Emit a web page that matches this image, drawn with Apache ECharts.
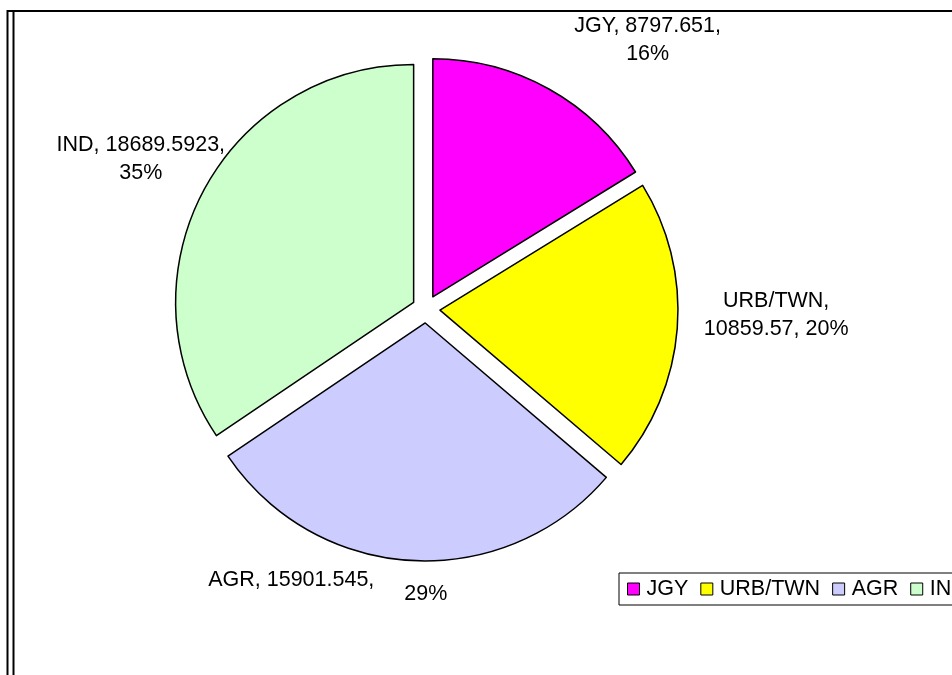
<!DOCTYPE html>
<html>
<head>
<meta charset="utf-8">
<script src="https://cdn.jsdelivr.net/npm/echarts@6/dist/echarts.min.js"></script>
<style>
  html, body { margin: 0; padding: 0; background: #fff; }
  #chart { width: 952px; height: 675px; }
</style>
</head>
<body>
<div id="chart"></div>
<script>
  // land use shares
  const names = ['JGY', 'URB/TWN', 'AGR', 'IND'];
  const values = [8797.651, 10859.57, 15901.545, 18689.5923];
  const colors = ['#ff00ff', '#ffff00', '#ccccff', '#ccffcc'];

  // label nudges from the default outside spot
  const labelShift = [[84, -31], [74, -15], [-78, 0], [-40, -22]];

  const chart = echarts.init(document.getElementById('chart'));

  const labelText = (p) => {
    const i = p.dataIndex;
    if (i === 1) return p.name + ',\n' + p.value + ', ' + p.percent + '%';
    if (i === 2) return '{a|' + p.name + ', ' + p.value + ',}{b|' + p.percent + '%}';
    return p.name + ', ' + p.value + ',\n' + p.percent + '%';
  };

  chart.setOption({
    animation: false,
    legend: {
      data: names,
      left: 619,
      top: 573,
      width: 500,
      orient: 'horizontal',
      padding: [5, 8, 5, 8],
      itemGap: 12,
      itemWidth: 12,
      itemHeight: 12,
      icon: 'rect',
      borderColor: '#000',
      borderWidth: 1,
      backgroundColor: '#fff',
      textStyle: { fontFamily: 'Liberation Sans', fontSize: 21.5, color: '#000', padding: [0, 0, 0, 2] },
      itemStyle: { borderColor: '#000', borderWidth: 1 }
    },
    graphic: [
      {
        type: 'polyline',
        shape: { points: [[7.5, 675], [7.5, 11], [952, 11]] },
        style: { stroke: '#000', lineWidth: 2, fill: null }
      },
      {
        type: 'line',
        shape: { x1: 13.5, y1: 12, x2: 13.5, y2: 675 },
        style: { stroke: '#000', lineWidth: 2 }
      }
    ],
    series: [{
      type: 'pie',
      center: [426, 309],
      radius: 238,
      startAngle: 90,
      clockwise: true,
      selectedMode: 'multiple',
      selectedOffset: 14,
      percentPrecision: 0,
      emphasis: { disabled: true },
      itemStyle: { borderColor: '#000', borderWidth: 1.5 },
      label: {
        show: true,
        position: 'outside',
        formatter: labelText,
        fontFamily: 'Liberation Sans',
        fontSize: 21.5,
        lineHeight: 28,
        color: '#000',
        rich: {
          a: { fontFamily: 'Liberation Sans', fontSize: 21.5, color: '#000' },
          b: { fontFamily: 'Liberation Sans', fontSize: 21.5, color: '#000', padding: [28, 0, 0, 30] }
        }
      },
      labelLine: { show: false, length: 20, length2: 0 },
      labelLayout: (p) => ({
        align: 'center',
        dx: labelShift[p.dataIndex][0],
        dy: labelShift[p.dataIndex][1]
      }),
      data: names.map((n, i) => ({
        name: n,
        value: values[i],
        selected: true,
        itemStyle: { color: colors[i] }
      }))
    }]
  });
</script>
</body>
</html>
